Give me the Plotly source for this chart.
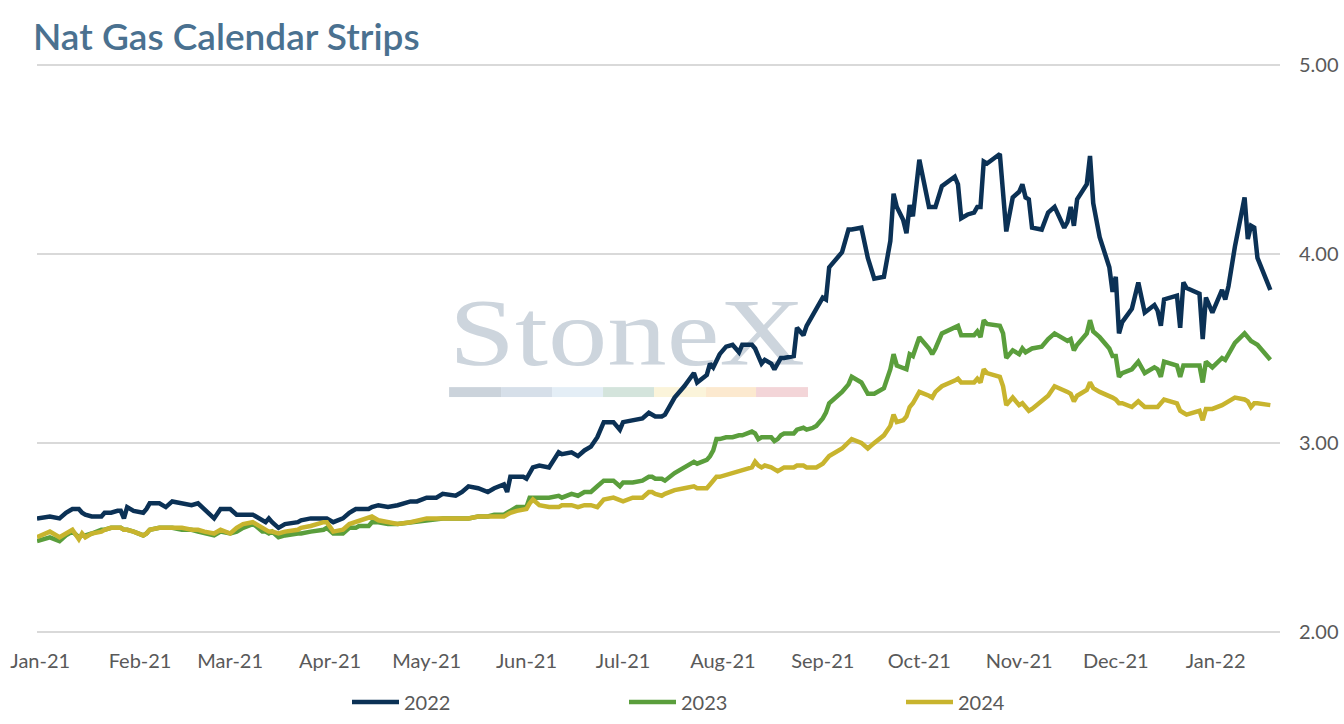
import base64
import plotly.graph_objects as go

# Calendar strip settlement values (USD/MMBtu)
dates = [
    "2020-12-31", "2021-01-04", "2021-01-07", "2021-01-09", "2021-01-11", "2021-01-13",
    "2021-01-14", "2021-01-15", "2021-01-17", "2021-01-20", "2021-01-21", "2021-01-23",
    "2021-01-25", "2021-01-26", "2021-01-27", "2021-01-28", "2021-01-30", "2021-02-02",
    "2021-02-03", "2021-02-04", "2021-02-07", "2021-02-09", "2021-02-11", "2021-02-14",
    "2021-02-17", "2021-02-19", "2021-02-21", "2021-02-24", "2021-02-26", "2021-03-01",
    "2021-03-03", "2021-03-05", "2021-03-08", "2021-03-09", "2021-03-11", "2021-03-12",
    "2021-03-13", "2021-03-14", "2021-03-16", "2021-03-18", "2021-03-22", "2021-03-23",
    "2021-03-26", "2021-03-30", "2021-03-31", "2021-04-02", "2021-04-05", "2021-04-07",
    "2021-04-09", "2021-04-10", "2021-04-13", "2021-04-14", "2021-04-16", "2021-04-19",
    "2021-04-22", "2021-04-26", "2021-04-28", "2021-05-01", "2021-05-04", "2021-05-06",
    "2021-05-10", "2021-05-12", "2021-05-14", "2021-05-17", "2021-05-20", "2021-05-22",
    "2021-05-24", "2021-05-25", "2021-05-26", "2021-05-27", "2021-05-29", "2021-05-31",
    "2021-06-01", "2021-06-02", "2021-06-03", "2021-06-05", "2021-06-08", "2021-06-11",
    "2021-06-12", "2021-06-15", "2021-06-17", "2021-06-19", "2021-06-21", "2021-06-23",
    "2021-06-25", "2021-06-28", "2021-06-30", "2021-07-01", "2021-07-04", "2021-07-07",
    "2021-07-09", "2021-07-10", "2021-07-11", "2021-07-13", "2021-07-14", "2021-07-17",
    "2021-07-20", "2021-07-23", "2021-07-24", "2021-07-27", "2021-07-28", "2021-07-29",
    "2021-07-30", "2021-07-31", "2021-08-02", "2021-08-04", "2021-08-06", "2021-08-07",
    "2021-08-10", "2021-08-11", "2021-08-12", "2021-08-13", "2021-08-14", "2021-08-16",
    "2021-08-17", "2021-08-18", "2021-08-19", "2021-08-20", "2021-08-23", "2021-08-24",
    "2021-08-26", "2021-08-27", "2021-08-29", "2021-08-30", "2021-09-01", "2021-09-02",
    "2021-09-03", "2021-09-07", "2021-09-09", "2021-09-10", "2021-09-13", "2021-09-15",
    "2021-09-17", "2021-09-20", "2021-09-22", "2021-09-23", "2021-09-24", "2021-09-26",
    "2021-09-27", "2021-09-28", "2021-09-29", "2021-10-01", "2021-10-04", "2021-10-05",
    "2021-10-06", "2021-10-08", "2021-10-12", "2021-10-13", "2021-10-14", "2021-10-16",
    "2021-10-18", "2021-10-19", "2021-10-20", "2021-10-21", "2021-10-22", "2021-10-26",
    "2021-10-27", "2021-10-28", "2021-10-30", "2021-11-01", "2021-11-02", "2021-11-03",
    "2021-11-04", "2021-11-05", "2021-11-08", "2021-11-10", "2021-11-12", "2021-11-15",
    "2021-11-16", "2021-11-17", "2021-11-18", "2021-11-19", "2021-11-22", "2021-11-23",
    "2021-11-24", "2021-11-26", "2021-11-29", "2021-11-30", "2021-12-01", "2021-12-02",
    "2021-12-03", "2021-12-06", "2021-12-08", "2021-12-10", "2021-12-13", "2021-12-14",
    "2021-12-15", "2021-12-16", "2021-12-20", "2021-12-21", "2021-12-22", "2021-12-23",
    "2021-12-27", "2021-12-28", "2021-12-29", "2021-12-31", "2022-01-03", "2022-01-04",
    "2022-01-05", "2022-01-07", "2022-01-10", "2022-01-11", "2022-01-12", "2022-01-13",
    "2022-01-14", "2022-01-18",
]

cal_2022 = [
    2.60, 2.61, 2.60, 2.63, 2.65, 2.65, 2.63, 2.62, 2.61, 2.61, 2.63, 2.63,
    2.64, 2.64, 2.60, 2.66, 2.64, 2.63, 2.65, 2.68, 2.68, 2.66, 2.69, 2.68,
    2.67, 2.68, 2.65, 2.60, 2.65, 2.65, 2.62, 2.62, 2.62, 2.61, 2.59, 2.58,
    2.60, 2.58, 2.55, 2.57, 2.58, 2.59, 2.60, 2.60, 2.60, 2.58, 2.60, 2.63,
    2.65, 2.65, 2.65, 2.66, 2.67, 2.66, 2.67, 2.69, 2.69, 2.71, 2.71, 2.73,
    2.72, 2.74, 2.77, 2.76, 2.74, 2.76, 2.77, 2.78, 2.74, 2.82, 2.82, 2.82,
    2.81, 2.84, 2.87, 2.88, 2.87, 2.95, 2.94, 2.95, 2.93, 2.96, 2.98, 3.03,
    3.11, 3.11, 3.07, 3.11, 3.12, 3.13, 3.16, 3.15, 3.14, 3.14, 3.15, 3.24,
    3.30, 3.37, 3.32, 3.36, 3.42, 3.40, 3.43, 3.47, 3.51, 3.52, 3.48, 3.52,
    3.52, 3.50, 3.46, 3.42, 3.44, 3.42, 3.39, 3.42, 3.45, 3.45, 3.46, 3.61,
    3.57, 3.62, 3.68, 3.72, 3.77, 3.76, 3.93, 4.01, 4.13, 4.13, 4.14, 3.98,
    3.87, 3.88, 4.07, 4.32, 4.25, 4.18, 4.11, 4.26, 4.20, 4.50, 4.25, 4.25,
    4.25, 4.36, 4.41, 4.37, 4.19, 4.21, 4.22, 4.25, 4.25, 4.49, 4.48, 4.53,
    4.35, 4.12, 4.30, 4.33, 4.37, 4.30, 4.29, 4.14, 4.13, 4.22, 4.25, 4.14,
    4.17, 4.25, 4.15, 4.29, 4.37, 4.52, 4.27, 4.09, 3.93, 3.80, 3.88, 3.58,
    3.64, 3.71, 3.85, 3.69, 3.73, 3.70, 3.62, 3.76, 3.78, 3.61, 3.85, 3.82,
    3.79, 3.55, 3.77, 3.69, 3.81, 3.76, 3.83, 4.04, 4.30, 4.08, 4.15, 4.14,
    3.98, 3.81,
]

cal_2023 = [
    2.48, 2.50, 2.48, 2.51, 2.53, 2.50, 2.51, 2.51, 2.52, 2.54, 2.54, 2.55,
    2.55, 2.55, 2.54, 2.54, 2.53, 2.51, 2.52, 2.54, 2.55, 2.55, 2.55, 2.54,
    2.54, 2.53, 2.52, 2.51, 2.53, 2.52, 2.53, 2.55, 2.57, 2.56, 2.53, 2.53,
    2.52, 2.53, 2.50, 2.51, 2.52, 2.52, 2.53, 2.54, 2.55, 2.52, 2.52, 2.55,
    2.55, 2.56, 2.56, 2.58, 2.58, 2.57, 2.57, 2.58, 2.58, 2.59, 2.60, 2.60,
    2.60, 2.60, 2.60, 2.61, 2.61, 2.62, 2.62, 2.62, 2.63, 2.64, 2.66, 2.66,
    2.66, 2.71, 2.71, 2.71, 2.71, 2.72, 2.71, 2.73, 2.72, 2.74, 2.74, 2.77,
    2.80, 2.80, 2.77, 2.79, 2.79, 2.80, 2.82, 2.82, 2.81, 2.81, 2.80, 2.84,
    2.87, 2.90, 2.89, 2.91, 2.93, 2.96, 3.02, 3.02, 3.03, 3.03, 3.04, 3.04,
    3.06, 3.05, 3.02, 3.03, 3.03, 3.03, 3.01, 3.02, 3.04, 3.05, 3.05, 3.07,
    3.08, 3.07, 3.08, 3.09, 3.13, 3.16, 3.21, 3.27, 3.31, 3.35, 3.32, 3.26,
    3.26, 3.29, 3.39, 3.47, 3.41, 3.40, 3.39, 3.47, 3.46, 3.56, 3.50, 3.47,
    3.50, 3.58, 3.61, 3.62, 3.57, 3.57, 3.57, 3.59, 3.56, 3.65, 3.63, 3.62,
    3.58, 3.45, 3.49, 3.47, 3.50, 3.48, 3.49, 3.50, 3.51, 3.55, 3.58, 3.55,
    3.54, 3.55, 3.49, 3.52, 3.58, 3.65, 3.59, 3.56, 3.50, 3.46, 3.46, 3.35,
    3.37, 3.39, 3.43, 3.37, 3.40, 3.39, 3.35, 3.43, 3.41, 3.35, 3.41, 3.41,
    3.41, 3.32, 3.43, 3.40, 3.45, 3.44, 3.47, 3.53, 3.58, 3.56, 3.54, 3.53,
    3.52, 3.44,
]

cal_2024 = [
    2.50, 2.53, 2.50, 2.52, 2.54, 2.49, 2.52, 2.50, 2.52, 2.53, 2.54, 2.55,
    2.55, 2.55, 2.54, 2.54, 2.53, 2.51, 2.52, 2.54, 2.55, 2.55, 2.55, 2.55,
    2.54, 2.54, 2.53, 2.52, 2.54, 2.52, 2.55, 2.57, 2.58, 2.57, 2.55, 2.54,
    2.53, 2.53, 2.52, 2.53, 2.54, 2.55, 2.56, 2.58, 2.58, 2.53, 2.54, 2.57,
    2.58, 2.59, 2.60, 2.61, 2.59, 2.58, 2.57, 2.58, 2.59, 2.60, 2.60, 2.60,
    2.60, 2.60, 2.60, 2.61, 2.61, 2.61, 2.61, 2.61, 2.62, 2.63, 2.64, 2.65,
    2.65, 2.68, 2.70, 2.67, 2.66, 2.66, 2.67, 2.67, 2.66, 2.67, 2.67, 2.66,
    2.70, 2.71, 2.70, 2.69, 2.71, 2.71, 2.74, 2.74, 2.73, 2.72, 2.73, 2.75,
    2.76, 2.77, 2.76, 2.76, 2.78, 2.80, 2.82, 2.82, 2.83, 2.84, 2.85, 2.86,
    2.87, 2.90, 2.88, 2.87, 2.88, 2.87, 2.86, 2.85, 2.86, 2.87, 2.87, 2.88,
    2.88, 2.87, 2.87, 2.87, 2.89, 2.91, 2.93, 2.97, 3.00, 3.02, 3.00, 2.97,
    3.00, 3.04, 3.09, 3.15, 3.11, 3.12, 3.14, 3.19, 3.21, 3.27, 3.25, 3.24,
    3.27, 3.30, 3.33, 3.34, 3.32, 3.32, 3.32, 3.34, 3.32, 3.39, 3.37, 3.35,
    3.30, 3.20, 3.24, 3.20, 3.21, 3.19, 3.17, 3.18, 3.22, 3.25, 3.30, 3.28,
    3.27, 3.26, 3.22, 3.25, 3.28, 3.32, 3.29, 3.27, 3.25, 3.24, 3.23, 3.21,
    3.21, 3.19, 3.22, 3.19, 3.19, 3.19, 3.21, 3.23, 3.21, 3.17, 3.16, 3.15,
    3.17, 3.12, 3.18, 3.18, 3.20, 3.21, 3.22, 3.24, 3.23, 3.22, 3.19, 3.21,
    3.21, 3.20,
]

y_ticks = [2, 3, 4, 5]

series = [
    ("2022", cal_2022, "#0b3155"),
    ("2023", cal_2023, "#5a9e3c"),
    ("2024", cal_2024, "#c8b42e"),
]

# StoneX watermark (logo text + colour bar) as an inline svg, drawn under the lines
bar_colors = ["#cbd3db", "#d6dfe9", "#e4eef6", "#d4e4dc", "#fbf4da", "#fce9cf", "#f3d5d8"]
bar_edges = [0, 52, 103, 154, 205, 257, 307, 359]
bars = "".join(
    f'<rect x="{bar_edges[i]}" y="91" width="{bar_edges[i + 1] - bar_edges[i]}" height="10" fill="{c}"/>'
    for i, c in enumerate(bar_colors)
)
svg = (
    '<svg xmlns="http://www.w3.org/2000/svg" width="359" height="101" viewBox="0 0 359 101">'
    '<text x="0" y="69" font-family="Liberation Serif, DejaVu Serif, serif" font-size="96" '
    'fill="#cdd5dd" textLength="356" lengthAdjust="spacingAndGlyphs">StoneX</text>'
    + bars + "</svg>"
)
logo = "data:image/svg+xml;base64," + base64.b64encode(svg.encode()).decode()

fig = go.Figure()
for name, values, color in series:
    fig.add_trace(go.Scatter(x=dates, y=values, name=name, mode="lines",
                             line=dict(color=color, width=4.5)))

fig.update_layout(
    width=1344, height=724,
    margin=dict(l=37, r=64, t=64, b=91, autoexpand=False),
    paper_bgcolor="white", plot_bgcolor="white",
    font=dict(family="Lato, Open Sans, sans-serif", size=20, color="#595959"),
    title=dict(text="Nat Gas Calendar Strips", x=0.02455, xref="container", xanchor="left",
               y=0.9489, yanchor="middle",
               font=dict(family="Lato, sans-serif", size=37, color="#4a7190", weight=600)),
    showlegend=True,
    legend=dict(orientation="h", x=0.2494, xanchor="left", y=0.0304, yref="container",
                yanchor="middle", itemwidth=47, entrywidth=215, entrywidthmode="pixels",
                font=dict(size=20, color="#595959")),
    hovermode="x unified",
    images=[dict(source=logo, xref="paper", yref="paper", x=0.3315, y=0.5926,
                 sizex=0.2888, sizey=0.1781, xanchor="left", yanchor="top",
                 sizing="stretch", layer="below")],
)

fig.update_xaxes(type="date", range=["2020-12-31", "2022-01-21"],
                 tick0="2021-01-01", dtick="M1", tickformat="%b-%y",
                 showgrid=False, zeroline=False, showline=False, ticks="",
                 ticklabelstandoff=14, automargin=False)
# range padded a hair so the 2.00 and 5.00 gridlines are not clipped at the edges
fig.update_yaxes(range=[1.993, 5.007], tickvals=y_ticks, tickformat=".2f", side="right",
                 showgrid=True, gridcolor="#d9d9d9", gridwidth=1.5,
                 zeroline=False, showline=False, ticks="", ticklabelstandoff=18,
                 automargin=False)

# drop the browser's default body margin so the 1344x724 figure fills the window exactly
fig.write_html("out.html", config={"displayModeBar": False},
               post_script="document.body.style.margin = '0px';")
